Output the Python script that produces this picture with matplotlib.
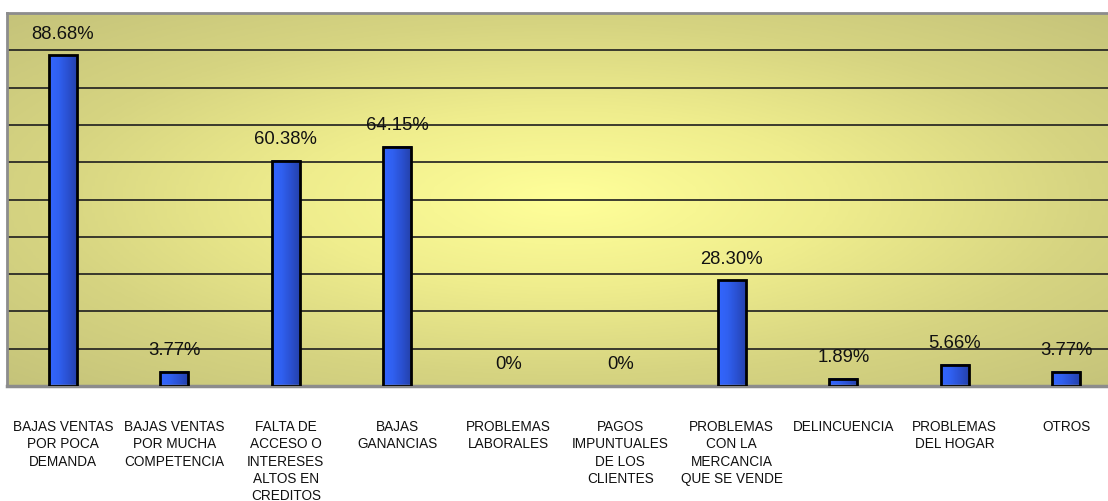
import matplotlib
matplotlib.use("Agg")
import matplotlib.pyplot as plt
import matplotlib.transforms as mtransforms
import numpy as np
from matplotlib.colors import LinearSegmentedColormap

categories = [
    "BAJAS VENTAS\nPOR POCA\nDEMANDA",
    "BAJAS VENTAS\nPOR MUCHA\nCOMPETENCIA",
    "FALTA DE\nACCESO O\nINTERESES\nALTOS EN\nCREDITOS",
    "BAJAS\nGANANCIAS",
    "PROBLEMAS\nLABORALES",
    "PAGOS\nIMPUNTUALES\nDE LOS\nCLIENTES",
    "PROBLEMAS\nCON LA\nMERCANCIA\nQUE SE VENDE",
    "DELINCUENCIA",
    "PROBLEMAS\nDEL HOGAR",
    "OTROS",
]
values = [88.68, 3.77, 60.38, 64.15, 0, 0, 28.30, 1.89, 5.66, 3.77]
value_labels = ["88.68%", "3.77%", "60.38%", "64.15%", "0%", "0%",
                "28.30%", "1.89%", "5.66%", "3.77%"]

plt.rcParams["font.family"] = ["Liberation Sans", "DejaVu Sans"]

fig = plt.figure(figsize=(11.08, 5.02), dpi=100)
# plot area runs slightly past the right edge of the canvas
ax = fig.add_axes([7 / 1108, 1 - 387 / 502, 1115 / 1108, 373 / 502])

n = len(categories)
x = np.arange(n)
ax.set_xlim(-0.5, n - 0.5)
ax.set_ylim(0, 100)

# radial yellow background, light in the middle, olive toward the edges
gx, gy = np.meshgrid(np.linspace(-1, 1, 400), np.linspace(-1, 1, 200))
r = np.clip(np.sqrt(gx ** 2 + gy ** 2) / np.sqrt(2), 0, 1)
bg_cmap = LinearSegmentedColormap.from_list(
    "bg", ["#FFFF99", "#EFED8D", "#D6D481", "#C5C37A"])
ax.imshow(r, cmap=bg_cmap, extent=(-0.5, n - 0.5, 0, 100),
          aspect="auto", zorder=0, interpolation="bilinear")

# horizontal gridlines every 10%
for yv in range(10, 100, 10):
    ax.axhline(yv, color="#1E1E1E", lw=1.2, zorder=1)

# bars with a left-to-right blue gradient
bar_cmap = LinearSegmentedColormap.from_list(
    "bar", ["#3366FF", "#3060F0", "#2A50D0", "#2440A8"])
grad = np.linspace(0, 1, 64).reshape(1, -1)
width = 0.255
vals = np.array(values)
shown = vals > 0
for xi, v in zip(x[shown], vals[shown]):
    ax.imshow(grad, cmap=bar_cmap, extent=(xi - width / 2, xi + width / 2, 0, v),
              aspect="auto", zorder=2, interpolation="bilinear")
ax.bar(x[shown], vals[shown], width=width, facecolor="none",
       edgecolor="black", linewidth=2, zorder=3)

for xi, v, lab in zip(x, values, value_labels):
    ax.annotate(lab, (xi, v), xytext=(0, 16), textcoords="offset points",
                ha="center", va="center", fontsize=13.3, color="#111111",
                zorder=4)

ax.set_xticks([])
ax.set_yticks([])
for side in ["top", "left", "right"]:
    ax.spines[side].set_color("#8C8C8C")
    ax.spines[side].set_linewidth(2)
ax.spines["bottom"].set_color("#8C8C8C")
ax.spines["bottom"].set_linewidth(2.5)

# category names below the plot
trans = mtransforms.blended_transform_factory(ax.transData, ax.transAxes)
offset = mtransforms.ScaledTranslation(0, -33 / 100, fig.dpi_scale_trans)
for xi, cat in zip(x, categories):
    ax.text(xi, 0, cat, transform=trans + offset,
            ha="center", va="top", fontsize=9.8, color="#111111",
            linespacing=1.3, multialignment="center")

fig.savefig("out.png", dpi=100)
